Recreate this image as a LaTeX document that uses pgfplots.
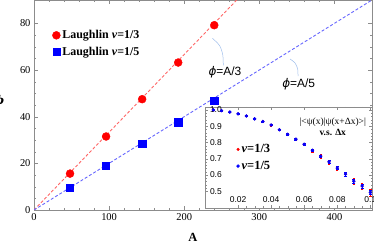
\documentclass[border=0pt]{standalone}
\usepackage{fontspec}
\setmainfont{Liberation Serif}
\setsansfont{Liberation Sans}
\newfontfamily\dvsans{DejaVu Sans}
\newfontfamily\dvserif{DejaVu Serif}
\usepackage{pgfplots}
\usepackage{pgfplotstable}
\pgfplotsset{compat=1.18}
\definecolor{calloutc}{rgb}{0.62,0.74,0.92}
\definecolor{frameg}{gray}{0.55}
\pgfplotsset{mainbox/.style={at={(0bp,0bp)}, anchor=south west, scale only axis,
  width=338bp, height=210bp, xmin=0, xmax=450, ymin=0, ymax=90},
  insetbox/.style={at={(171bp,2bp)}, anchor=south west, scale only axis,
  width=167bp, height=101bp, xmin=0, xmax=0.101, ymin=0.397, ymax=1.018},
  textlabel/.style={hide axis, legend style={draw=none, fill=none, at={#1}, anchor=center}}}
\begin{document}
\pgfplotstableread{
x y
48 15.6
96 31.5
144 47.5
192 63.2
240 79.2
}\lthree
\pgfplotstableread{
x y
48 9.4
96 19.0
144 28.4
192 37.6
240 47.0
}\lfive
\pgfplotstableread{
x y e
0.005 1.000 0.000
0.010 0.996 0.001
0.015 0.987 0.001
0.020 0.976 0.002
0.025 0.963 0.002
0.030 0.945 0.003
0.035 0.929 0.003
0.040 0.907 0.004
0.045 0.878 0.005
0.050 0.850 0.006
0.055 0.820 0.007
0.060 0.789 0.008
0.065 0.752 0.009
0.070 0.716 0.010
0.075 0.681 0.012
0.080 0.642 0.013
0.085 0.605 0.014
0.090 0.562 0.016
0.095 0.532 0.018
0.100 0.492 0.020
}\othree
\pgfplotstableread{
x y e
0.005 1.000 0.000
0.010 0.996 0.001
0.015 0.987 0.001
0.020 0.976 0.001
0.025 0.963 0.002
0.030 0.945 0.002
0.035 0.929 0.002
0.040 0.907 0.003
0.045 0.878 0.003
0.050 0.850 0.004
0.055 0.820 0.004
0.060 0.789 0.005
0.065 0.752 0.006
0.070 0.716 0.007
0.075 0.681 0.008
0.080 0.642 0.009
0.085 0.605 0.010
0.090 0.562 0.011
0.095 0.532 0.012
0.100 0.492 0.013
}\ofive
\begin{tikzpicture}
\useasboundingbox (-34bp,-35bp) rectangle (340bp,210bp);
\begin{axis}[mainbox,
  xtick={0,100,200,300,400}, xticklabels={0,100,200,300,400},
  ytick={0,20,40,60,80}, yticklabels={0,20,40,60,80},
  minor x tick num=4, minor y tick num=3,
  tick align=inside, major tick length=4bp, minor tick length=2bp,
  axis line style={frameg}, tick style={frameg},
  ticklabel style={font=\fontsize{10.5}{12}\selectfont},
]
\addplot[red!60, line width=0.9pt, dash pattern=on 3pt off 2pt, forget plot] coordinates {(0,0) (270,90)};
\addplot[blue!60, line width=0.9pt, dash pattern=on 3pt off 2pt, forget plot] coordinates {(0,0) (450,90)};
\addplot[calloutc, line width=0.5pt, smooth, forget plot] coordinates {(252,62) (251.3,66.5) (247,70.5) (237.5,73.6)};
\addplot[calloutc, line width=0.5pt, smooth, forget plot] coordinates {(351.5,57.4) (351,60.5) (347.5,63) (341,64.7)};
\addplot[only marks, mark=*, mark size=4pt, red, forget plot] table[x=x,y=y]{\lthree};
\addplot[only marks, mark=square*, mark size=3.6pt, blue, forget plot] table[x=x,y=y]{\lfive};
\end{axis}
\begin{axis}[mainbox, hide axis,
  legend style={draw=none, fill=none, at={(0.045,0.875)}, anchor=north west, font=\fontsize{12}{14}\selectfont\bfseries, row sep=3pt},
  legend cell align=left]
\addlegendimage{only marks, mark=*, mark size=4pt, red}
\addlegendentry{Laughlin \textit{ν}=1/3}
\addlegendimage{only marks, mark=square*, mark size=3.6pt, blue}
\addlegendentry{Laughlin \textit{ν}=1/5}
\end{axis}
\begin{axis}[mainbox, textlabel={(0.565,0.66)}, legend style={font=\sffamily\fontsize{12}{14}\selectfont}]
\addlegendimage{empty legend}
\addlegendentry{{\dvsans\itshape ϕ}=A/3}
\end{axis}
\begin{axis}[mainbox, textlabel={(0.783,0.602)}, legend style={font=\sffamily\fontsize{12}{14}\selectfont}]
\addlegendimage{empty legend}
\addlegendentry{{\dvsans\itshape ϕ}=A/5}
\end{axis}
\begin{axis}[mainbox, textlabel={(0.47,-0.135)}, legend style={font=\fontsize{12.5}{14}\selectfont\bfseries}]
\addlegendimage{empty legend}
\addlegendentry{A}
\end{axis}
\begin{axis}[mainbox, textlabel={(-0.105,0.52)}, legend style={font=\fontsize{12}{14}\selectfont}]
\addlegendimage{empty legend}
\addlegendentry{{\dvserif\bfseries\itshape ϕ}}
\end{axis}
\begin{axis}[insetbox,
  xtick={0.02,0.04,0.06,0.08,0.1}, xticklabels={0.02,0.04,0.06,0.08,0.1},
  ytick={0.5,0.6,0.7,0.8,0.9,1.0}, yticklabels={0.5,0.6,0.7,0.8,0.9,1.0},
  minor x tick num=3, minor y tick num=4,
  tick align=inside, major tick length=3bp, minor tick length=1.5bp,
  axis line style={frameg}, tick style={frameg},
  axis background/.style={fill=white},
  ticklabel style={font=\sffamily\fontsize{8.5}{10}\selectfont},
  xticklabel style={anchor=south, yshift=2bp},
  yticklabel style={anchor=west, xshift=1.5bp},
  legend style={draw=none, fill=none, at={(0.17,0.67)}, anchor=north west, font=\fontsize{12.5}{14}\selectfont\bfseries, row sep=3pt},
  legend cell align=left,
]
\addplot[only marks, mark=*, mark size=1.2pt, red, forget plot,
  error bars/y dir=both, error bars/y explicit,
  error bars/error bar style={red, line width=0.7pt}]
  table[x=x,y=y,y error=e]{\othree};
\addplot[only marks, mark=*, mark size=1.5pt, blue, forget plot,
  error bars/y dir=both, error bars/y explicit,
  error bars/error bar style={blue, line width=0.7pt}]
  table[x=x,y=y,y error=e]{\ofive};
\addlegendimage{only marks, mark=*, mark size=1.3pt, red}
\addlegendentry{\textit{ν}=1/3}
\addlegendimage{only marks, mark=*, mark size=1.5pt, blue}
\addlegendentry{\textit{ν}=1/5}
\end{axis}
\begin{axis}[insetbox, textlabel={(0.765,0.80)}, legend style={font=\fontsize{9.5}{11}\selectfont, row sep=-1pt}, legend cell align=center]
\addlegendimage{empty legend}
\addlegendentry{\textbar\textless ψ(x)\textbar ψ(x+Δx)\textgreater\textbar}
\addlegendimage{empty legend}
\addlegendentry{\textbf{v.s. Δx}}
\end{axis}
\end{tikzpicture}
\end{document}
